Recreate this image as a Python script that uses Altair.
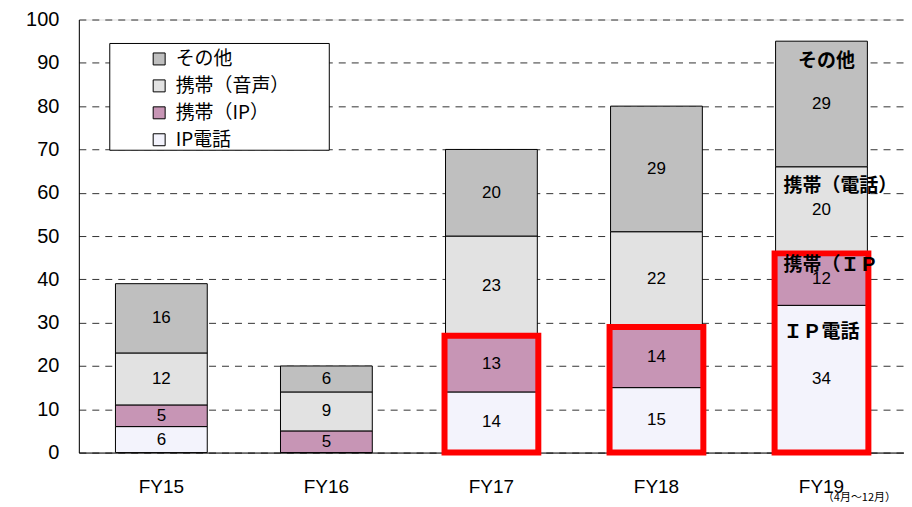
import altair as alt
import pandas as pd

years = ["FY15", "FY16", "FY17", "FY18", "FY19"]
categories = ["その他", "携帯（音声）", "携帯（IP）", "IP電話"]
ip_phone = [6, 0, 14, 15, 34]
mobile_ip = [5, 5, 13, 14, 12]
mobile_voice = [12, 9, 23, 22, 20]
other = [16, 6, 20, 29, 29]
highlight_years = ["FY17", "FY18", "FY19"]

ann_text = ["その他", "携帯（電話）", "携帯（ＩＰ", "ＩＰ電話"]
ann_value = [90.4, 61.6, 43.2, 27.9]
ann_align = ["center", "left", "left", "left"]

colors = ["#bfbfbf", "#e2e2e2", "#c795b5", "#f3f3fc"]

series = {"IP電話": ip_phone, "携帯（IP）": mobile_ip, "携帯（音声）": mobile_voice, "その他": other}
order = {"IP電話": 0, "携帯（IP）": 1, "携帯（音声）": 2, "その他": 3}
rows = []
for cat, vals in series.items():
    for y, v in zip(years, vals):
        rows.append({"year": y, "cat": cat, "value": v, "ord": order[cat]})
df = pd.DataFrame(rows)

hl = pd.DataFrame({
    "year": highlight_years,
    "top": [ip_phone[years.index(y)] + mobile_ip[years.index(y)] for y in highlight_years],
})

ann = pd.DataFrame({"year": ["FY19"] * 4, "text": ann_text, "v": ann_value, "align": ann_align})

W, H = 827, 434
FONT = "Noto Sans CJK JP"

xenc = alt.X("year:N", sort=years, scale=alt.Scale(paddingInner=0, paddingOuter=0),
             axis=alt.Axis(title=None, labelAngle=0, ticks=False, labelPadding=25,
                           labelFontSize=19, labelColor="black", labelFont="Liberation Sans",
                           domainColor="black", grid=False))
yscale = alt.Scale(domain=[0, 100], nice=False)

base = alt.Chart(df).transform_stack(
    stack="value", as_=["y0", "y1"], groupby=["year"], sort=[alt.SortField("ord")]
).transform_calculate(mid="(datum.y0 + datum.y1) / 2")

legend_box = alt.Chart(pd.DataFrame({"a": [0]})).mark_rect(
    fill="white", stroke="black", strokeWidth=1
).encode(x=alt.value(31), x2=alt.value(251), y=alt.value(24), y2=alt.value(131))

bars = base.mark_bar(size=92, stroke="black", strokeWidth=1).encode(
    x=xenc,
    y=alt.Y("y0:Q", scale=yscale,
            axis=alt.Axis(title=None, values=list(range(0, 101, 10)), ticks=False, labelPadding=20,
                          labelFontSize=20, labelColor="black", labelFont="Liberation Sans",
                          domainColor="black", grid=True, gridDash=[7, 6], gridColor="#333")),
    y2="y1:Q",
    fill=alt.Fill("cat:N", scale=alt.Scale(domain=categories, range=colors),
                  legend=alt.Legend(title=None, orient="none", legendX=71, legendY=30,
                                    symbolType="square", symbolSize=144, symbolStrokeColor="black",
                                    symbolStrokeWidth=1, labelFont=FONT, labelFontSize=19,
                                    labelColor="black", labelOffset=7, rowPadding=7, padding=0)),
)

labels = base.transform_filter("datum.value > 0").mark_text(
    fontSize=17, font="Liberation Sans", color="black"
).encode(x=alt.X("year:N", sort=years), y=alt.Y("mid:Q", scale=yscale), text="value:Q")

red = alt.Chart(hl).mark_bar(size=94, fillOpacity=0, stroke="#ff0000", strokeWidth=6).encode(
    x=alt.X("year:N", sort=years), y=alt.Y("top:Q", scale=yscale), y2=alt.datum(0)
)

ann_c = alt.Chart(ann).transform_filter("datum.align == 'center'").mark_text(
    fontSize=19, fontWeight="bold", font=FONT, color="black", align="center", dx=5
).encode(x=alt.X("year:N", sort=years), y=alt.Y("v:Q", scale=yscale), text="text:N")
ann_l = alt.Chart(ann).transform_filter("datum.align == 'left'").mark_text(
    fontSize=19, fontWeight="bold", font=FONT, color="black", align="left", dx=-38
).encode(x=alt.X("year:N", sort=years), y=alt.Y("v:Q", scale=yscale), text="text:N")

note = alt.Chart(pd.DataFrame({"year": ["FY19"], "t": ["（4月～12月）"]})).mark_text(
    fontSize=11, font=FONT, color="black", dx=38
).encode(x=alt.X("year:N", sort=years), y=alt.value(H + 46), text="t:N")

chart = alt.layer(legend_box, bars, labels, red, ann_c, ann_l, note).properties(
    width=W, height=H,
    autosize=alt.AutoSizeParams(type="none"),
    padding={"left": 71, "top": 11, "right": 0, "bottom": 54},
).configure_view(stroke="#444", strokeWidth=1).configure(background="white")

chart.save("out.html", embed_options={"renderer": "svg", "actions": False})
